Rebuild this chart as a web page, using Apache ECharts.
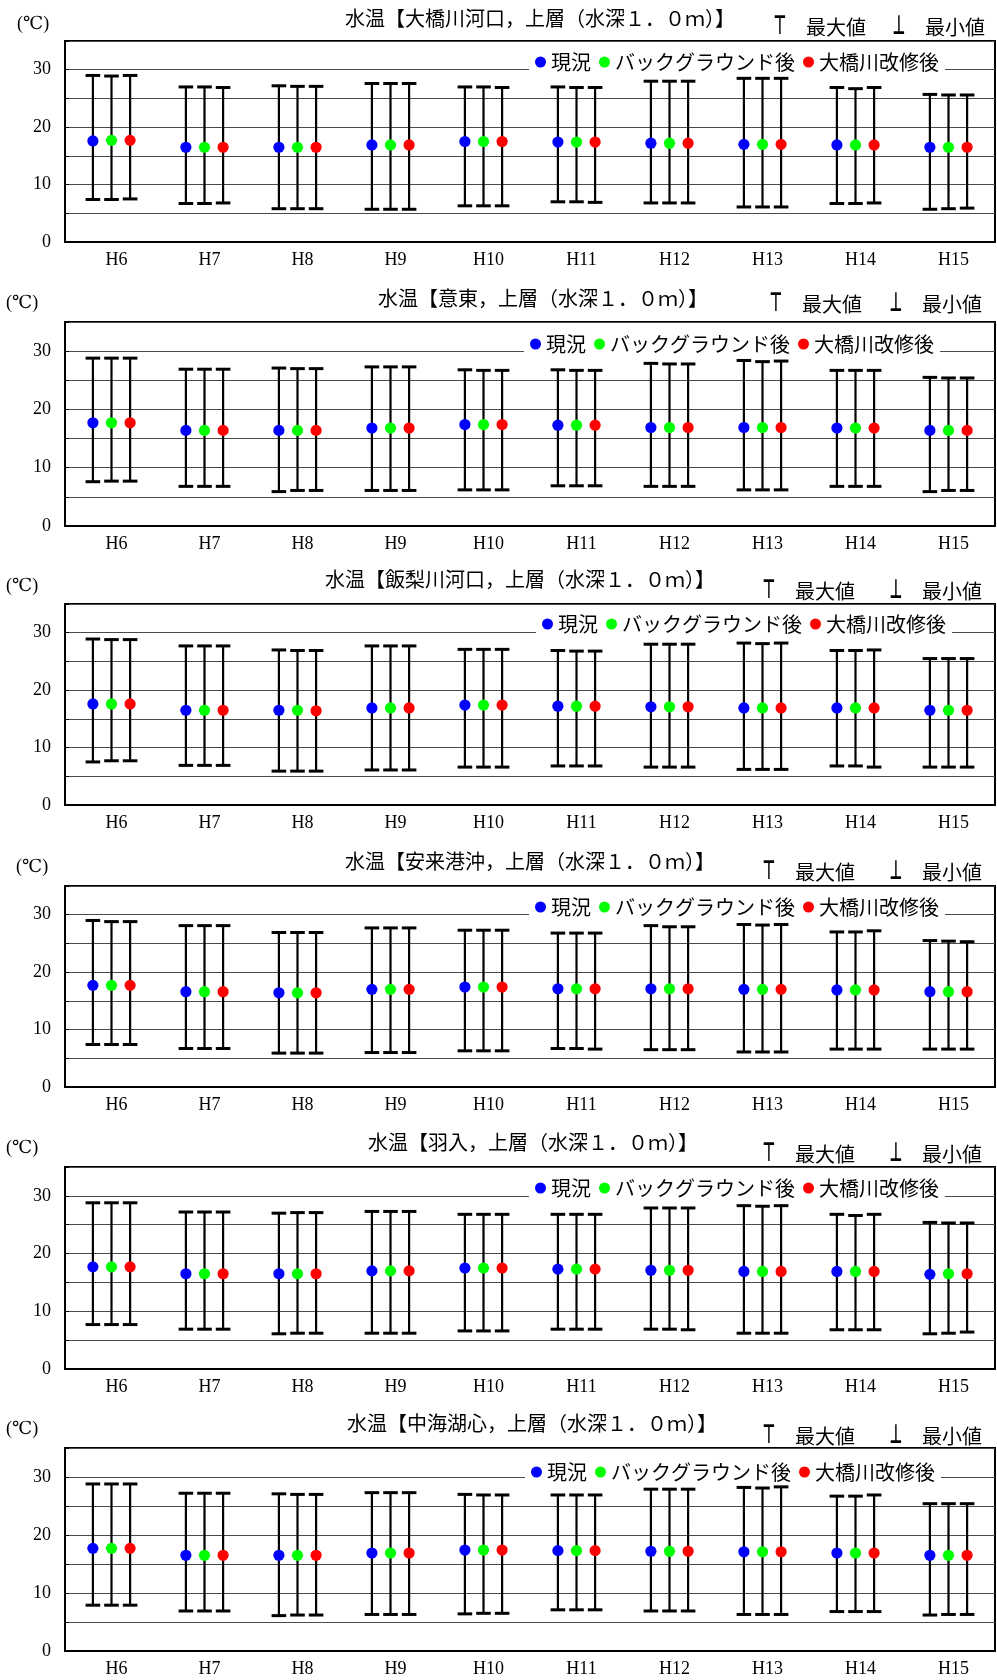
<!DOCTYPE html>
<html>
<head>
<meta charset="utf-8">
<script src="https://cdn.jsdelivr.net/npm/echarts@6.0.0/dist/echarts.min.js"></script>
<style>
html,body{margin:0;padding:0;background:#fff;}
#chart{width:997px;height:1680px;}
</style>
</head>
<body>
<div id="chart"></div>
<script>
// ---------------- DATA ----------------
const CATEGORIES = ['H6','H7','H8','H9','H10','H11','H12','H13','H14','H15'];
const SERIES_NAMES = ['現況','バックグラウンド後','大橋川改修後'];
const Y_TICK_LABELS = [0, 10, 20, 30];
const PANEL_TITLES = [
  '水温【大橋川河口，上層（水深１．０ｍ）】',
  '水温【意東，上層（水深１．０ｍ）】',
  '水温【飯梨川河口，上層（水深１．０ｍ）】',
  '水温【安来港沖，上層（水深１．０ｍ）】',
  '水温【羽入，上層（水深１．０ｍ）】',
  '水温【中海湖心，上層（水深１．０ｍ）】'
];
const UNIT_LABEL = '(℃)';
const MAX_LABEL = '最大値';
const MIN_LABEL = '最小値';

// Panel 1: 大橋川河口  [現況, バックグラウンド後, 大橋川改修後]
const P1_MEAN = [
  [17.6,16.5,16.5,16.9,17.5,17.4,17.2,17.0,16.9,16.5],
  [17.7,16.5,16.5,16.9,17.5,17.4,17.2,17.0,16.9,16.5],
  [17.7,16.5,16.5,16.9,17.5,17.4,17.2,17.0,16.9,16.5]
];
const P1_MAX = [
  [29.0,27.0,27.2,27.6,27.0,27.0,28.0,28.5,26.9,25.7],
  [28.9,27.0,27.1,27.6,27.0,26.9,28.0,28.5,26.7,25.6],
  [29.0,26.9,27.1,27.6,26.9,26.9,28.0,28.5,26.9,25.6]
];
const P1_MIN = [
  [7.4,6.7,5.8,5.7,6.3,7.0,6.8,6.1,6.7,5.7],
  [7.4,6.7,5.8,5.7,6.3,7.0,6.8,6.1,6.7,5.8],
  [7.5,6.8,5.8,5.7,6.3,6.9,6.8,6.1,6.8,5.9]
];

// Panel 2: 意東
const P2_MEAN = [
  [17.7,16.4,16.4,16.8,17.4,17.3,16.9,16.9,16.8,16.4],
  [17.7,16.4,16.4,16.8,17.4,17.3,16.9,16.9,16.8,16.4],
  [17.7,16.4,16.4,16.8,17.4,17.3,16.9,16.9,16.8,16.4]
];
const P2_MAX = [
  [28.8,26.9,27.1,27.3,26.8,26.8,27.9,28.4,26.7,25.5],
  [28.8,26.9,27.0,27.3,26.7,26.7,27.8,28.2,26.7,25.4],
  [28.8,26.9,27.0,27.3,26.7,26.7,27.8,28.3,26.7,25.4]
];
const P2_MIN = [
  [7.6,6.8,5.9,6.1,6.2,6.9,6.8,6.2,6.8,5.9],
  [7.7,6.8,6.1,6.1,6.2,6.9,6.8,6.2,6.8,6.1],
  [7.7,6.8,6.1,6.1,6.2,6.9,6.8,6.2,6.8,6.1]
];

// Panel 3: 飯梨川河口
const P3_MEAN = [
  [17.6,16.5,16.5,16.9,17.4,17.2,17.1,16.9,16.9,16.5],
  [17.6,16.5,16.5,16.9,17.4,17.2,17.1,16.9,16.9,16.5],
  [17.6,16.5,16.4,16.9,17.4,17.2,17.1,16.9,16.9,16.5]
];
const P3_MAX = [
  [28.9,27.7,27.0,27.7,27.1,26.9,28.0,28.2,26.9,25.5],
  [28.8,27.7,26.9,27.7,27.1,26.8,28.0,28.1,26.9,25.5],
  [28.8,27.7,26.9,27.7,27.1,26.8,28.0,28.2,27.0,25.5]
];
const P3_MIN = [
  [7.5,6.9,5.9,6.1,6.6,6.8,6.6,6.2,6.8,6.6],
  [7.7,6.9,5.9,6.1,6.6,6.8,6.6,6.2,6.8,6.6],
  [7.7,6.9,5.9,6.1,6.6,6.8,6.6,6.2,6.6,6.6]
];

// Panel 4: 安来港沖
const P4_MEAN = [
  [17.7,16.6,16.4,17.0,17.4,17.1,17.1,17.0,16.9,16.6],
  [17.7,16.6,16.4,17.0,17.4,17.1,17.1,17.0,16.9,16.6],
  [17.7,16.6,16.4,17.0,17.4,17.1,17.1,17.0,16.9,16.6]
];
const P4_MAX = [
  [29.0,28.1,26.9,27.7,27.3,26.8,28.1,28.3,27.0,25.5],
  [28.8,28.1,26.9,27.7,27.3,26.8,27.9,28.2,27.0,25.4],
  [28.8,28.1,26.9,27.7,27.3,26.8,27.9,28.3,27.2,25.3]
];
const P4_MIN = [
  [7.4,6.7,5.9,6.0,6.3,6.7,6.5,6.1,6.6,6.6],
  [7.4,6.7,5.9,6.0,6.3,6.7,6.5,6.1,6.6,6.6],
  [7.4,6.7,5.9,6.0,6.3,6.6,6.5,6.1,6.6,6.6]
];

// Panel 5: 羽入
const P5_MEAN = [
  [17.7,16.5,16.5,17.0,17.5,17.3,17.1,16.9,16.9,16.4],
  [17.7,16.5,16.5,17.0,17.5,17.3,17.1,16.9,16.9,16.5],
  [17.7,16.5,16.5,17.0,17.5,17.3,17.1,16.9,16.9,16.5]
];
const P5_MAX = [
  [28.8,27.2,27.0,27.3,26.8,26.8,27.9,28.3,26.8,25.4],
  [28.8,27.2,27.1,27.3,26.8,26.8,27.9,28.2,26.6,25.3],
  [28.8,27.2,27.1,27.3,26.8,26.8,27.9,28.3,26.8,25.3]
];
const P5_MIN = [
  [7.7,6.9,6.1,6.2,6.6,6.9,6.9,6.2,6.8,6.1],
  [7.7,6.9,6.2,6.2,6.6,6.9,6.9,6.2,6.8,6.2],
  [7.7,6.9,6.2,6.2,6.6,6.9,6.8,6.2,6.8,6.4]
];

// Panel 6: 中海湖心
const P6_MEAN = [
  [17.7,16.5,16.5,16.9,17.4,17.3,17.2,17.1,16.9,16.5],
  [17.7,16.5,16.5,16.9,17.4,17.3,17.2,17.1,16.9,16.5],
  [17.7,16.5,16.5,16.9,17.4,17.3,17.2,17.1,16.9,16.5]
];
const P6_MAX = [
  [28.8,27.2,27.1,27.3,27.0,26.9,27.9,28.2,26.7,25.4],
  [28.8,27.2,27.0,27.3,26.9,26.9,27.9,28.1,26.7,25.4],
  [28.8,27.2,27.0,27.3,26.9,26.9,27.9,28.3,26.9,25.4]
];
const P6_MIN = [
  [7.9,6.9,6.1,6.3,6.4,7.1,6.9,6.3,6.8,6.2],
  [7.9,6.9,6.2,6.3,6.5,7.1,6.9,6.3,6.8,6.3],
  [7.9,6.9,6.2,6.3,6.5,7.1,6.9,6.3,6.8,6.3]
];

// ---------------- LAYOUT / STYLE ----------------
const COLORS = ['#0000ff', '#00ff00', '#ff0000'];
const GRID_LEFT = 65;
const GRID_WIDTH = 930;
const GRID_TOPS = [41, 322, 604, 886, 1167, 1448];
const GRID_HEIGHTS = [201, 204, 201, 201, 202, 203];
const TITLE_X = [540, 543, 520, 530, 533, 532];
const TITLE_Y = [18, 298, 579, 861, 1142, 1423];
const UNIT_X = [17, 6, 6, 16, 6, 6];
const UNIT_Y = [24, 303, 586, 867, 1148, 1429];
const LEGEND_RIGHT = [52, 57, 45, 52, 52, 56];
const LEGEND_CY = [62, 344, 624, 907, 1188, 1472];
const MM_Y = [27, 304, 591, 872, 1154, 1436];
const MM_TOP_X = [780, 776, 769, 769, 769, 769];
const MM_MAXTXT_X = [806, 802, 795, 795, 795, 795];
const MM_BOT_X = [899, 896, 896, 896, 896, 896];
const MM_MINTXT_X = [925, 922, 922, 922, 922, 922];

const FONT_SERIF = '"Liberation Serif", "DejaVu Serif", "Noto Sans CJK JP", serif';
const FONT_CJK = '"Noto Sans CJK JP", "Liberation Serif", sans-serif';

const PANEL_MEANS = [P1_MEAN, P2_MEAN, P3_MEAN, P4_MEAN, P5_MEAN, P6_MEAN];
const PANEL_MAXS = [P1_MAX, P2_MAX, P3_MAX, P4_MAX, P5_MAX, P6_MAX];
const PANEL_MINS = [P1_MIN, P2_MIN, P3_MIN, P4_MIN, P5_MIN, P6_MIN];

function makeRenderItem(k) {
  return function (params, api) {
    const cat = api.value(0);
    const band = api.size([1, 0])[0];
    const off = (k - 1) * 0.2 * band;
    const pMean = api.coord([cat, api.value(1)]);
    const pMax = api.coord([cat, api.value(2)]);
    const pMin = api.coord([cat, api.value(3)]);
    const x = pMean[0] + off;
    const cap = 7.3;
    return {
      type: 'group',
      children: [
        { type: 'line', shape: { x1: x, y1: pMax[1], x2: x, y2: pMin[1] },
          style: { stroke: '#000', lineWidth: 2.2 } },
        { type: 'line', shape: { x1: x - cap, y1: pMax[1], x2: x + cap, y2: pMax[1] },
          style: { stroke: '#000', lineWidth: 3 } },
        { type: 'line', shape: { x1: x - cap, y1: pMin[1], x2: x + cap, y2: pMin[1] },
          style: { stroke: '#000', lineWidth: 3 } },
        { type: 'circle', shape: { cx: x, cy: pMean[1], r: 5.6 },
          style: { fill: COLORS[k] } }
      ]
    };
  };
}

function txt(x, y, text, font, align, extra) {
  const o = {
    type: 'text', x: x, y: y,
    style: { text: text, font: font, fill: '#000',
      textAlign: align, textVerticalAlign: 'middle', align: align, verticalAlign: 'middle' }
  };
  if (extra) { for (const key in extra) o[key] = extra[key]; }
  return o;
}

const grids = [], xAxes = [], yAxes = [], series = [], legends = [], graphics = [];

for (let p = 0; p < 6; p++) {
  grids.push({
    left: GRID_LEFT, width: GRID_WIDTH, top: GRID_TOPS[p], height: GRID_HEIGHTS[p],
    show: true, borderColor: '#000', borderWidth: 2, backgroundColor: '#fff'
  });
  xAxes.push({
    type: 'category', gridIndex: p, data: CATEGORIES, boundaryGap: true,
    axisLine: { lineStyle: { color: '#000', width: 2 } },
    axisTick: { inside: true, length: 5, lineStyle: { color: '#000', width: 1 } },
    axisLabel: { color: '#000', fontSize: 18, fontFamily: FONT_SERIF, margin: 9, padding: [0, 0, 0, 10] },
    splitLine: { show: false }
  });
  yAxes.push({
    type: 'value', gridIndex: p, min: 0, max: 35, interval: 5,
    axisLine: { show: true, lineStyle: { color: '#000', width: 2 } },
    axisTick: { show: true, inside: true, length: 4, lineStyle: { color: '#000' } },
    axisLabel: {
      color: '#000', fontSize: 18, fontFamily: FONT_SERIF, margin: 14,
      formatter: function (v) { return Y_TICK_LABELS.indexOf(v) >= 0 ? String(v) : ''; }
    },
    splitLine: { show: true, lineStyle: { color: '#4a4a4a', width: 1 } }
  });
  for (let k = 0; k < 3; k++) {
    const data = CATEGORIES.map(function (c, i) {
      return [i, PANEL_MEANS[p][k][i], PANEL_MAXS[p][k][i], PANEL_MINS[p][k][i]];
    });
    series.push({
      type: 'custom', name: SERIES_NAMES[k], xAxisIndex: p, yAxisIndex: p,
      itemStyle: { color: COLORS[k] },
      encode: { x: 0, y: [1, 2, 3] },
      renderItem: makeRenderItem(k),
      data: data, z: 3, animation: false
    });
  }
  legends.push({
    data: SERIES_NAMES, right: LEGEND_RIGHT[p], top: LEGEND_CY[p] - 13,
    orient: 'horizontal', icon: 'circle', itemWidth: 11, itemHeight: 11, itemGap: 8,
    selectedMode: false, backgroundColor: '#fff', padding: [2, 6],
    textStyle: { fontSize: 20, fontFamily: FONT_CJK, color: '#000', lineHeight: 22 }
  });
  graphics.push(txt(TITLE_X[p], TITLE_Y[p], PANEL_TITLES[p], '20px ' + FONT_CJK, 'center'));
  graphics.push(txt(UNIT_X[p], UNIT_Y[p], UNIT_LABEL, '18px ' + FONT_SERIF, 'left'));
  graphics.push(txt(MM_TOP_X[p], MM_Y[p], '⊤', 'bold 28px "DejaVu Sans"', 'center', { scaleX: 0.5, scaleY: 0.95 }));
  graphics.push(txt(MM_MAXTXT_X[p], MM_Y[p], MAX_LABEL, '20px ' + FONT_CJK, 'left'));
  graphics.push(txt(MM_BOT_X[p], MM_Y[p], '⊥', 'bold 28px "DejaVu Sans"', 'center', { scaleX: 0.5, scaleY: 0.95 }));
  graphics.push(txt(MM_MINTXT_X[p], MM_Y[p], MIN_LABEL, '20px ' + FONT_CJK, 'left'));
}

const chart = echarts.init(document.getElementById('chart'), null, { renderer: 'canvas' });
chart.setOption({
  animation: false,
  backgroundColor: '#fff',
  grid: grids,
  xAxis: xAxes,
  yAxis: yAxes,
  legend: legends,
  series: series,
  graphic: graphics
});
</script>
</body>
</html>
